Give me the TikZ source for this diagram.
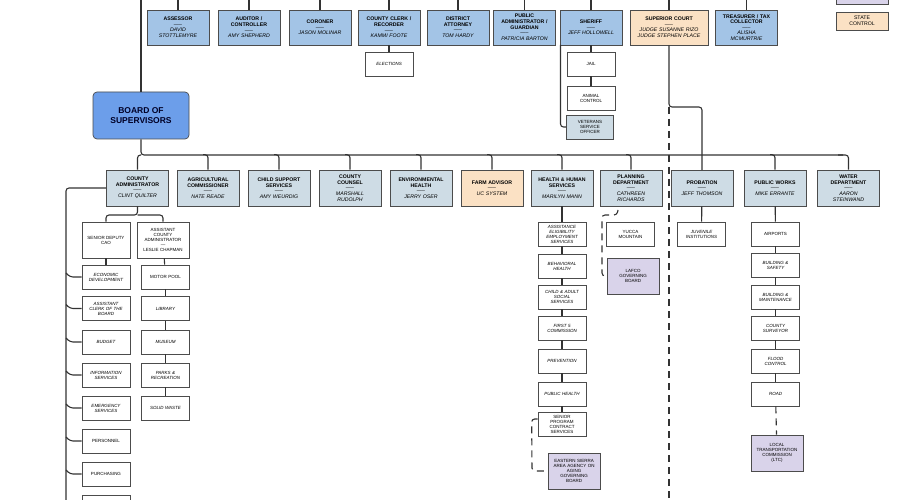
\documentclass[tikz,border=0pt]{standalone}
\usepackage{fontspec}
\setmainfont{Liberation Sans}
\begin{document}
\begin{tikzpicture}[x=1pt,y=-1pt,
  bx/.style={draw=black!70,line width=0.7pt,align=center,inner sep=0.5pt,font=\fontsize{5.2}{5.8}\selectfont},
  top/.style={bx,fill=topblue,minimum width=62pt,minimum height=35pt,text width=60pt},
  sec/.style={bx,fill=secblue,minimum width=62pt,minimum height=36pt,text width=60pt},
  sub/.style={bx,fill=white,minimum width=48pt,minimum height=24pt,text width=46pt,font=\fontsize{4.5}{5}\selectfont},
  lav/.style={bx,fill=lav,minimum width=52pt,minimum height=36pt,text width=50pt,font=\fontsize{4.5}{5}\selectfont},
  ln/.style={draw=black!80,line width=1.1pt,rounded corners=3pt},
  dl/.style={ln,dashed,dash pattern=on 7pt off 5pt}]
\definecolor{topblue}{HTML}{A3C4E6}
\definecolor{secblue}{HTML}{CEDCE5}
\definecolor{peach}{HTML}{FBE1C4}
\definecolor{lav}{HTML}{D9D3EA}
\definecolor{board}{HTML}{6C9EEA}
\newcommand{\tb}[2]{{\bfseries #1}\\[-0.5pt]-----\\{\itshape #2}}
\clip (0,0) rectangle (900,500);
\fill[white] (0,0) rectangle (900,500);
% legend
\node[bx,fill=lav,minimum width=52pt,minimum height=16pt] (lg1) at (862,-4) {\\BOARD};
\node[bx,fill=peach,minimum width=52pt,minimum height=18pt,text width=50pt] (lg2) at (862,21) {STATE\\CONTROL};
% board
\node[bx,fill=board,rounded corners=4pt,minimum width=96pt,minimum height=47pt,font=\fontsize{8.5}{9.5}\selectfont\bfseries,text=black!85!blue] (bos) at (141,115.5) {BOARD OF\\SUPERVISORS};
\coordinate (bt) at (141,-5);
\draw[ln] (bt) -- (bos.north);
% top row
\node[top] (t1) at (178,27.5) {\tb{ASSESSOR}{DAVID\\STOTTLEMYRE}};
\node[top] (t2) at (249,27.5) {\tb{AUDITOR /\\CONTROLLER}{AMY SHEPHERD}};
\node[top] (t3) at (320,27.5) {\tb{CORONER}{JASON MOLINAR}};
\node[top] (t4) at (389,27.5) {\tb{COUNTY CLERK /\\RECORDER}{KAMMI FOOTE}};
\node[top] (t5) at (458,27.5) {\tb{DISTRICT\\ATTORNEY}{TOM HARDY}};
\node[top] (t6) at (524.5,27.5) {\tb{PUBLIC\\ADMINISTRATOR /\\GUARDIAN}{PATRICIA BARTON}};
\node[top] (t7) at (591,27.5) {\tb{SHERIFF}{JEFF HOLLOWELL}};
\node[top,fill=peach,minimum width=78pt,text width=76pt] (t8) at (669,27.5) {\tb{SUPERIOR COURT}{JUDGE SUSANNE RIZO\\JUDGE STEPHEN PLACE}};
\node[top] (t9) at (746.5,27.5) {\tb{TREASURER / TAX\\COLLECTOR}{ALISHA\\MCMURTRIE}};
\foreach \n in {t1,t2,t3,t4,t5,t6,t7,t8,t9}{\draw[ln] (\n.north) -- ++(0,-15);}
\node[sub] (el) at (389,64) {\itshape ELECTIONS};
\draw[ln] (t4) -- (el);
\node[sub] (jail) at (591,64) {JAIL};
\node[sub] (ac) at (591,98) {ANIMAL\\CONTROL};
\node[sub,fill=secblue,minimum width=46pt] (vso) at (590,127) {VETERANS\\SERVICE\\OFFICER};
\draw[ln] (t7) -- (jail); \draw[ln] (jail) -- (ac);
\draw[ln] (560.5,45) -- (560.5,127) -- (vso.west);
% superior court lines
\coordinate (sc1) at (669,107);
\draw[ln] (t8.south) -- (sc1) -- (702,107) -- (702,170);
\draw[dl] (sc1) -- (669,505);
% second row
\node[sec] (c1) at (137.5,188) {\tb{COUNTY\\ADMINISTRATOR}{CLINT QUILTER}};
\node[sec] (c2) at (208,188) {\tb{AGRICULTURAL\\COMMISSIONER}{NATE READE}};
\node[sec] (c3) at (279,188) {\tb{CHILD SUPPORT\\SERVICES}{AMY WEURDIG}};
\node[sec] (c4) at (350,188) {\tb{COUNTY\\COUNSEL}{MARSHALL\\RUDOLPH}};
\node[sec] (c5) at (421,188) {\tb{ENVIRONMENTAL\\HEALTH}{JERRY OSER}};
\node[sec,fill=peach] (c6) at (492,188) {\tb{FARM ADVISOR}{UC SYSTEM}};
\node[sec] (c7) at (562,188) {\tb{HEALTH \& HUMAN\\SERVICES}{MARILYN MANN}};
\node[sec] (c8) at (631,188) {\tb{PLANNING\\DEPARTMENT}{CATHREEN\\RICHARDS}};
\node[sec] (c9) at (702,188) {\tb{PROBATION}{JEFF THOMSON}};
\node[sec] (c10) at (775,188) {\tb{PUBLIC WORKS}{MIKE ERRANTE}};
\node[sec] (c11) at (848.5,188) {\tb{WATER\\DEPARTMENT}{AARON\\STEINWAND}};
\coordinate (bus) at (141,155);
\draw[ln] (bos.south) -- (bus) -- (843,155);
\draw[ln] (bus) -- (137.5,155) -- (c1.north);
\foreach \n in {c2,c3,c4,c5,c6,c7,c8,c10}{\draw[ln] (\n.north) ++(-5,-15) -- ++(5,0) -- (\n.north);}
\draw[ln] (838,155) -- (848.5,155) -- (c11.north);
% county admin
\node[sub,minimum height=36pt] (sd) at (106,240) {SENIOR DEPUTY\\CAO};
\node[sub,minimum height=36pt,minimum width=52pt,text width=50pt] (aca) at (163,240) {ASSISTANT\\COUNTY\\ADMINISTRATOR\\---\\LESLIE CHAPMAN};
\draw[ln] (c1.south) -- (137.5,215) -- (106,215) -- (sd.north);
\draw[ln] (137.5,215) -- (163,215) -- (aca.north);
\coordinate (vl) at (66,505);
\draw[ln] (c1.west) -- (66,188) -- (vl);
\foreach \nm/\y/\t in {ed/277/{\itshape ECONOMIC\\DEVELOPMENT},acb/308.5/{\itshape ASSISTANT\\CLERK OF THE\\BOARD},bud/342/{\itshape BUDGET},inf/375/{\itshape INFORMATION\\SERVICES},em/408/{\itshape EMERGENCY\\SERVICES},per/441/{PERSONNEL},pur/474/{PURCHASING},x8/507/{}}{
  \node[sub] (\nm) at (106,\y) {\t};
  \draw[ln] (66,\y-4) -- (70,\y) -- (\nm.west);}
\draw[ln] (sd) -- (ed);
\node[sub] (mp) at (165.5,277) {MOTOR POOL};
\node[sub] (lib) at (165.5,308.5) {\itshape LIBRARY};
\node[sub] (mus) at (165.5,342) {\itshape MUSEUM};
\node[sub] (par) at (165.5,375) {\itshape PARKS \&\\RECREATION};
\node[sub] (sw) at (165.5,408) {\itshape SOLID WASTE};
\draw[ln] (aca) -- (mp); \draw[ln] (mp) -- (lib); \draw[ln] (lib) -- (mus); \draw[ln] (mus) -- (par); \draw[ln] (par) -- (sw);
% HHS
\node[sub] (h1) at (562,234) {\itshape ASSISTANCE\\ELIGIBILITY\\EMPLOYMENT\\SERVICES};
\node[sub] (h2) at (562,266) {\itshape BEHAVIORAL\\HEALTH};
\node[sub] (h3) at (562,297) {\itshape CHILD \& ADULT\\SOCIAL\\SERVICES};
\node[sub] (h4) at (562,328) {\itshape FIRST 5\\COMMISSION};
\node[sub] (h5) at (562,361) {\itshape PREVENTION};
\node[sub] (h6) at (562,394) {\itshape PUBLIC HEALTH};
\node[sub] (h7) at (562,424) {SENIOR\\PROGRAM\\CONTRACT\\SERVICES};
\draw[ln] (c7) -- (h1); \draw[ln] (h1) -- (h2); \draw[ln] (h2) -- (h3); \draw[ln] (h3) -- (h4); \draw[ln] (h4) -- (h5); \draw[ln] (h5) -- (h6); \draw[ln] (h6) -- (h7);
\node[lav] (es) at (574,471) {EASTERN SIERRA\\AREA AGENCY ON\\AGING\\GOVERNING\\BOARD};
\draw[dl] (h7.west) ++(0,-5) -- ++(-6,0) -- (532,471) -- (es.west);
% planning
\node[sub] (ym) at (630.5,234) {YUCCA\\MOUNTAIN};
\node[lav] (laf) at (633,276) {LAFCO\\GOVERNING\\BOARD};
\draw[dl] (618,210) -- (617,215) -- (602,215) -- (602,276) -- (laf.west);
% probation
\node[sub] (ji) at (701.5,234) {\itshape JUVENILE\\INSTITUTIONS};
\draw[ln] (c9) -- (ji);
% public works
\node[sub] (p1) at (775.5,234) {AIRPORTS};
\node[sub] (p2) at (775.5,265) {\itshape BUILDING \&\\SAFETY};
\node[sub] (p3) at (775.5,297) {\itshape BUILDING \&\\MAINTENANCE};
\node[sub] (p4) at (775.5,328) {\itshape COUNTY\\SURVEYOR};
\node[sub] (p5) at (775.5,361) {\itshape FLOOD\\CONTROL};
\node[sub] (p6) at (775.5,394) {\itshape ROAD};
\draw[ln] (c10) -- (p1); \draw[ln] (p1) -- (p2); \draw[ln] (p2) -- (p3); \draw[ln] (p3) -- (p4); \draw[ln] (p4) -- (p5); \draw[ln] (p5) -- (p6);
\node[lav] (ltc) at (777,453) {LOCAL\\TRANSPORTATION\\COMMISSION\\(LTC)};
\draw[dl] (p6) -- (ltc);
\end{tikzpicture}
\end{document}
